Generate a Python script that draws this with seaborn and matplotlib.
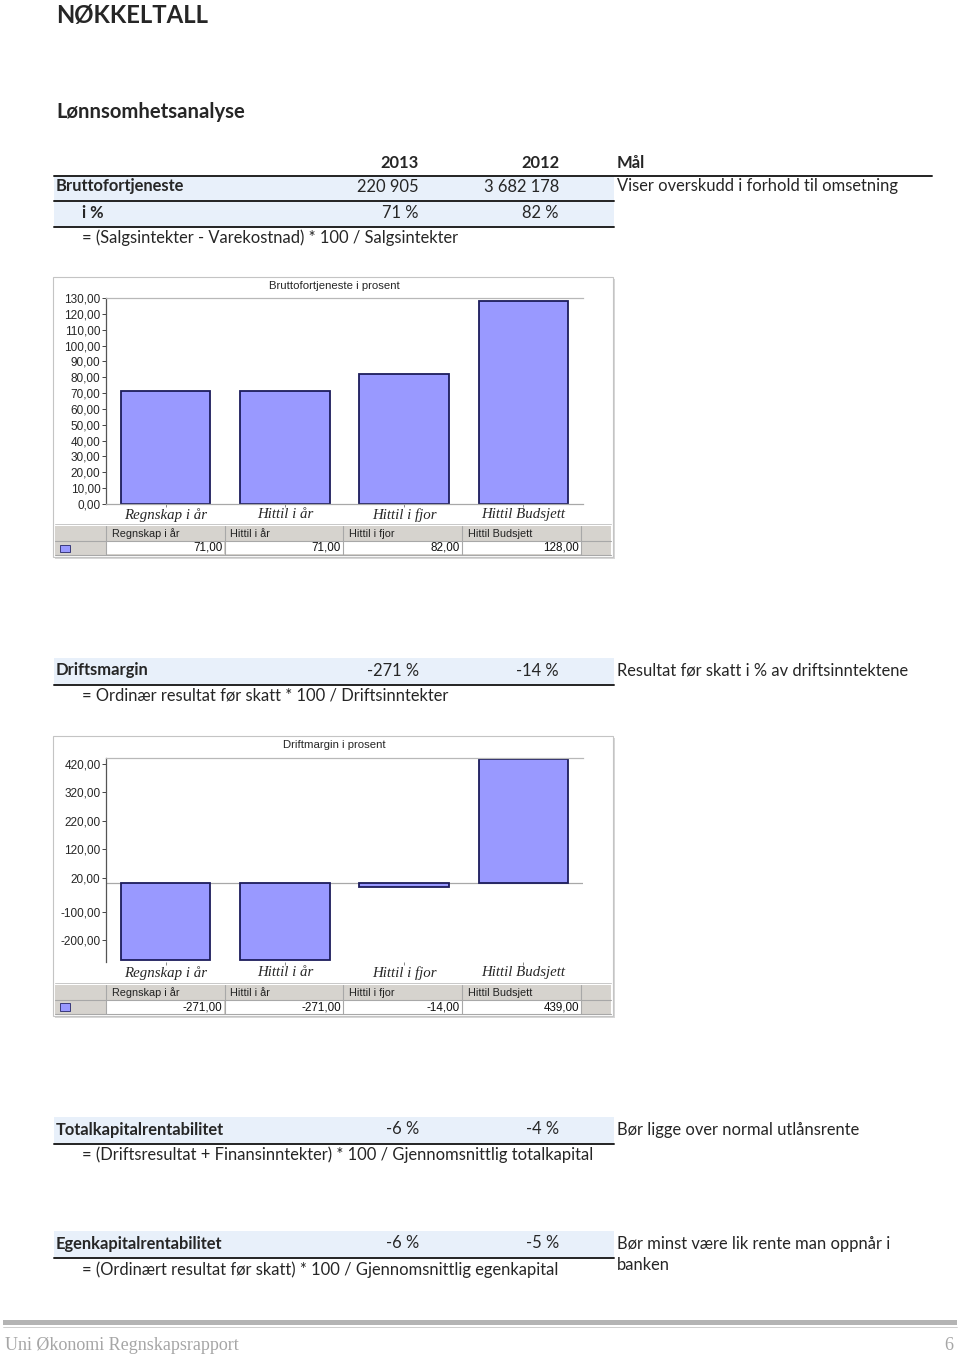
import matplotlib
matplotlib.use("Agg")
import matplotlib.pyplot as plt
import numpy as np
import pandas as pd
import seaborn as sns
from matplotlib.patches import Rectangle
from matplotlib.lines import Line2D
from matplotlib.ticker import FixedLocator, FuncFormatter

# ---------------- data ----------------
categories = ["Regnskap i år", "Hittil i år", "Hittil i fjor", "Hittil Budsjett"]
brutto_pct = [71, 71, 82, 128]
drift_pct = [-271, -271, -14, 439]
brutto_ticks = [0, 10, 20, 30, 40, 50, 60, 70, 80, 90, 100, 110, 120, 130]
drift_ticks = [-200, -100, 20, 120, 220, 320, 420]

years = ["2013", "2012"]
brutto_amount = ["220 905", "3 682 178"]
brutto_share = ["71 %", "82 %"]
driftsmargin = ["-271 %", "-14 %"]
totalkapital = ["-6 %", "-4 %"]
egenkapital = ["-6 %", "-5 %"]

# ---------------- setup ----------------
W, H = 960, 1357
sns.set_theme(style="white")
plt.rcParams["font.family"] = ["Lato", "DejaVu Sans"]

fig = plt.figure(figsize=(W / 100, H / 100), dpi=100)
fig.patch.set_facecolor("white")

BODY = 11.9
BLUE_BG = "#E8F0FA"
BAR = "#9999FF"
BAR_EDGE = "#1C1C5C"
SANS = ["Liberation Sans", "DejaVu Sans"]
SERIF = ["Liberation Serif", "DejaVu Serif"]


def fx(x):
    return x / W


def fy(y):
    return 1 - y / H


def txt(x, y, s, dy=1.5, **kw):
    kw.setdefault("fontsize", BODY)
    kw.setdefault("va", "center")
    fig.text(fx(x), fy(y + dy), s, **kw)


def hline(x0, x1, y, lw=1.0, color="#222222", z=3):
    fig.add_artist(Line2D([fx(x0), fx(x1)], [fy(y), fy(y)], transform=fig.transFigure,
                          lw=lw, color=color, zorder=z))


def vline(x, y0, y1, lw=0.7, color="#999999", z=3):
    fig.add_artist(Line2D([fx(x), fx(x)], [fy(y0), fy(y1)], transform=fig.transFigure,
                          lw=lw, color=color, zorder=z))


def rect(x0, y0, x1, y1, fc, ec="none", lw=0, z=0):
    fig.add_artist(Rectangle((fx(x0), fy(y1)), fx(x1) - fx(x0), fy(y0) - fy(y1),
                             transform=fig.transFigure, fc=fc, ec=ec, lw=lw, zorder=z))


def fmt_val(v):
    return f"{v:.2f}".replace(".", ",")


# ---------------- headings ----------------
txt(56, 14, "NØKKELTALL", fontsize=17.2, fontweight="bold")
txt(56, 110, "Lønnsomhetsanalyse", fontsize=14.6, fontweight="bold")

# ---------------- section 1 table ----------------
txt(419, 161, years[0], ha="right", fontweight="bold")
txt(559, 161, years[1], ha="right", fontweight="bold")
txt(617, 161, "Mål", fontweight="bold")
hline(54, 932, 175.5, lw=1.4)

rect(54, 176, 614, 200, BLUE_BG)
txt(56, 185, "Bruttofortjeneste", fontweight="bold")
txt(419, 185, brutto_amount[0], ha="right")
txt(559, 185, brutto_amount[1], ha="right")
txt(617, 185, "Viser overskudd i forhold til omsetning")
hline(54, 614, 200.5, lw=1.4)

rect(54, 201, 614, 226.5, BLUE_BG)
txt(82, 211, "i %", fontweight="bold")
txt(419, 211, brutto_share[0], ha="right")
txt(559, 211, brutto_share[1], ha="right")
hline(54, 614, 227, lw=1.4)
txt(82, 236, "= (Salgsintekter - Varekostnad) * 100 / Salgsintekter")


# ---------------- charts ----------------
def draw_chart(top_frame, ax_top, ax_bot, values, ticks, ylim, title, bottom_spine):
    # frame
    rect(55, top_frame + 2, 615, top_frame + 282, "#D8D8D8", z=0)
    rect(53, top_frame, 613, top_frame + 280, "white", ec="#C4C4C4", lw=0.8, z=0)
    txt(334, top_frame + 9, title, fontsize=8.2, ha="center", family=SANS, dy=0)

    ax = fig.add_axes([fx(106), fy(ax_bot), fx(583) - fx(106), (ax_bot - ax_top) / H])
    df = pd.DataFrame({"kategori": categories, "verdi": values})
    sns.barplot(data=df, x="kategori", y="verdi", ax=ax, color=BAR, saturation=1,
                edgecolor=BAR_EDGE, linewidth=1.3, width=0.75, errorbar=None)
    ax.set_facecolor("white")
    ax.set_ylim(*ylim)
    ax.set_xlim(-0.5, 3.5)
    ax.yaxis.set_major_locator(FixedLocator(ticks))
    ax.yaxis.set_major_formatter(FuncFormatter(lambda v, p: fmt_val(v)))
    ax.set_xlabel("")
    ax.set_ylabel("")
    ax.spines["right"].set_visible(False)
    ax.spines["top"].set_color("#B8B8B8")
    ax.spines["top"].set_linewidth(0.9)
    ax.spines["left"].set_color("#555555")
    ax.spines["left"].set_linewidth(0.9)
    if bottom_spine:
        ax.spines["bottom"].set_color("#A8A8A8")
        ax.spines["bottom"].set_linewidth(0.9)
    else:
        ax.spines["bottom"].set_visible(False)
        ax.axhline(0, color="#A8A8A8", lw=0.9, zorder=0.5)
    ax.tick_params(axis="y", which="major", left=True, length=3, width=0.7,
                   color="#444444", pad=1, labelsize=8.5)
    ax.tick_params(axis="x", which="major", bottom=True, length=2, width=0.7,
                   color="#888888", pad=1.2, labelsize=10.7)
    for lab in ax.get_yticklabels():
        lab.set_family(SANS)
    for lab in ax.get_xticklabels():
        lab.set_family(SERIF)
        lab.set_style("italic")
    ax.grid(False)

    # data table under the chart
    t = top_frame + 249
    hline(55, 611, t - 2, lw=0.7, color="#C8C8C8")
    rect(55, t, 611, t + 29, "#D6D3CE", z=1)
    col_edges = [106, 224.5, 343, 462, 581]
    for i in range(4):
        x0, x1 = col_edges[i], col_edges[i + 1]
        rect(x0 + 0.5, t + 15, x1 - 0.5, t + 28.5, "white", z=2)
        txt(x0 + 6, t + 8, categories[i], fontsize=7.8, color="#222222",
            family=SANS, zorder=4, dy=0)
        txt(x1 - 2, t + 22, fmt_val(values[i]), fontsize=8.4, ha="right", color="#111111",
            family=SANS, zorder=4, dy=0)
    for x in col_edges:
        vline(x, t, t + 29, lw=0.8, color="#A8A8A8")
    hline(55, 611, t + 14.5, lw=0.8, color="#A8A8A8")
    hline(55, 611, t + 29, lw=0.8, color="#A8A8A8")
    rect(60, t + 18.5, 70, t + 25.5, BAR, ec="#3A3A7A", lw=0.7, z=4)
    return ax


draw_chart(277, 298, 504, brutto_pct, brutto_ticks, (0, 130),
           "Bruttofortjeneste i prosent", True)

# ---------------- section 2 ----------------
rect(54, 658, 614, 684, BLUE_BG)
txt(56, 669, "Driftsmargin", fontweight="bold")
txt(419, 669, driftsmargin[0], ha="right")
txt(559, 669, driftsmargin[1], ha="right")
txt(617, 669, "Resultat før skatt i % av driftsinntektene")
hline(54, 614, 684.5, lw=1.4)
txt(82, 694, "= Ordinær resultat før skatt * 100 / Driftsinntekter")

draw_chart(736, 758, 962, drift_pct, drift_ticks, (-277, 441),
           "Driftmargin i prosent", False)

# ---------------- section 3 ----------------
rect(54, 1117, 614, 1143, BLUE_BG)
txt(56, 1128, "Totalkapitalrentabilitet", fontweight="bold")
txt(419, 1128, totalkapital[0], ha="right")
txt(559, 1128, totalkapital[1], ha="right")
txt(617, 1128, "Bør ligge over normal utlånsrente")
hline(54, 614, 1143.5, lw=1.4)
txt(82, 1153, "= (Driftsresultat + Finansinntekter) * 100 / Gjennomsnittlig totalkapital")

# ---------------- section 4 ----------------
rect(54, 1231, 614, 1257, BLUE_BG)
txt(56, 1242, "Egenkapitalrentabilitet", fontweight="bold")
txt(419, 1242, egenkapital[0], ha="right")
txt(559, 1242, egenkapital[1], ha="right")
txt(617, 1242, "Bør minst være lik rente man oppnår i")
txt(617, 1264, "banken")
hline(54, 614, 1257.5, lw=1.4)
txt(82, 1268, "= (Ordinært resultat før skatt) * 100 / Gjennomsnittlig egenkapital")

# ---------------- footer ----------------
rect(3, 1320, 957, 1324.5, "#B4B4B4")
hline(3, 957, 1327, lw=0.6, color="#C8C8C8")
txt(5, 1344, "Uni Økonomi Regnskapsrapport", fontsize=13, color="#A6A6A6",
    family=SERIF)
txt(953, 1344, "6", fontsize=13, color="#A6A6A6", ha="right", family=SERIF)

fig.savefig("out.png", dpi=100, facecolor="white")
